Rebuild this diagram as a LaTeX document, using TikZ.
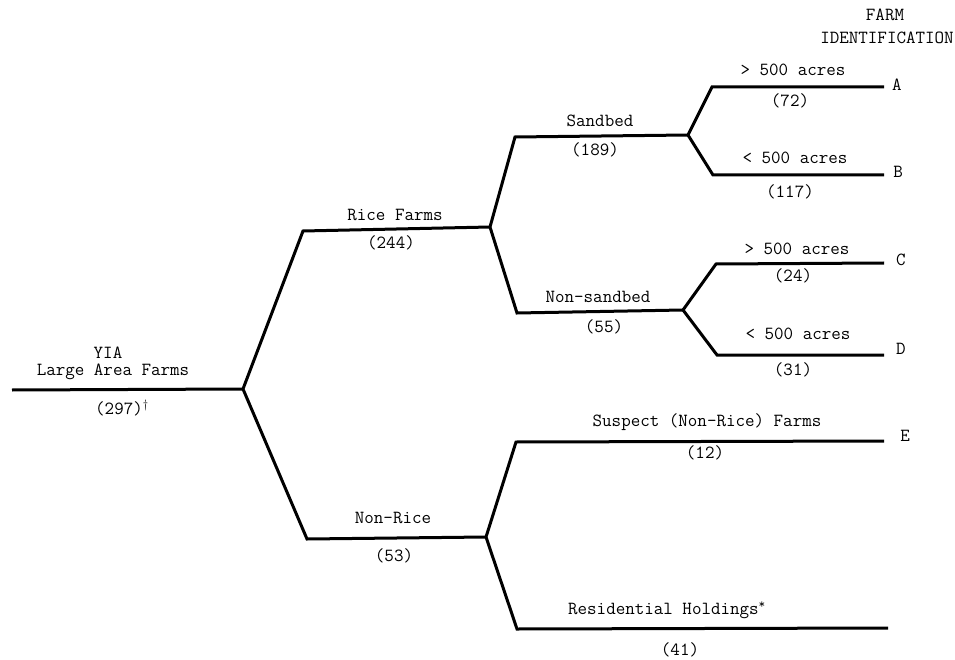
\documentclass[tikz,border=0pt]{standalone}
\begin{document}
\begin{tikzpicture}[x=1pt,y=-1pt,
  branch/.style={line width=3pt, line join=miter, line cap=butt},
  lbl/.style={font=\fontsize{18.5}{20}\ttfamily, inner sep=0pt, anchor=center},
]
\useasboundingbox (0,0) rectangle (955,660);
% junctions and corners
\coordinate (r0) at (12,390);
\coordinate (r) at (243,389);
\coordinate (rf1) at (303,231);
\coordinate (rf) at (490,227);
\coordinate (nr1) at (307,539);
\coordinate (nr) at (486,537);
\coordinate (sb1) at (515,137);
\coordinate (sb) at (688,135);
\coordinate (ns1) at (517,313);
\coordinate (ns) at (683,310);
\coordinate (a1) at (712,87);
\coordinate (a2) at (884,87);
\coordinate (b1) at (713,175);
\coordinate (b2) at (884,175);
\coordinate (c1) at (716,264);
\coordinate (c2) at (884,263);
\coordinate (d1) at (717,355);
\coordinate (d2) at (884,355);
\coordinate (e1) at (516,442);
\coordinate (e2) at (884,441);
\coordinate (f1) at (517,629);
\coordinate (f2) at (888,628);
% branches
\draw[branch] (r0) -- (r);
\draw[branch] (rf) -- (rf1) -- (r) -- (nr1) -- (nr);
\draw[branch] (sb) -- (sb1) -- (rf) -- (ns1) -- (ns);
\draw[branch] (a2) -- (a1) -- (sb) -- (b1) -- (b2);
\draw[branch] (c2) -- (c1) -- (ns) -- (d1) -- (d2);
\draw[branch] (e2) -- (e1) -- (nr) -- (f1) -- (f2);
% labels
\node[lbl] (farm) at (885,15) {FARM};
\node[lbl] (ident) at (887,38) {IDENTIFICATION};
\node[lbl] (yia) at (108,353) {YIA};
\node[lbl] (laf) at (113,372) {Large Area Farms};
\node[lbl, anchor=west] (n297) at (95,408) {(297)$^{\dagger}$};
\node[lbl] (rice) at (395,215) {Rice Farms};
\node[lbl] (n244) at (391,243) {(244)};
\node[lbl] (nonrice) at (393,518) {Non-Rice};
\node[lbl] (n53) at (394,556) {(53)};
\node[lbl] (sand) at (600,121) {Sandbed};
\node[lbl] (n189) at (595,150) {(189)};
\node[lbl] (nonsand) at (598,297) {Non-sandbed};
\node[lbl] (n55) at (604,327) {(55)};
\node[lbl] (ga) at (793,70) {> 500 acres};
\node[lbl] (n72) at (790,101) {(72)};
\node[lbl] (lb) at (795,158) {< 500 acres};
\node[lbl] (n117) at (790,192) {(117)};
\node[lbl] (gc) at (797,249) {> 500 acres};
\node[lbl] (n24) at (793,276) {(24)};
\node[lbl] (ld) at (798,334) {< 500 acres};
\node[lbl] (n31) at (793,370) {(31)};
\node[lbl] (susp) at (707,422) {Suspect (Non-Rice) Farms};
\node[lbl] (n12) at (705,453) {(12)};
\node[lbl] (resid) at (667,610) {Residential Holdings\textsuperscript{*}};
\node[lbl] (n41) at (680,650) {(41)};
\node[lbl] (A) at (897,85) {A};
\node[lbl] (B) at (898,172) {B};
\node[lbl] (C) at (901,260) {C};
\node[lbl] (D) at (901,349) {D};
\node[lbl] (E) at (905,436) {E};
\end{tikzpicture}
\end{document}
